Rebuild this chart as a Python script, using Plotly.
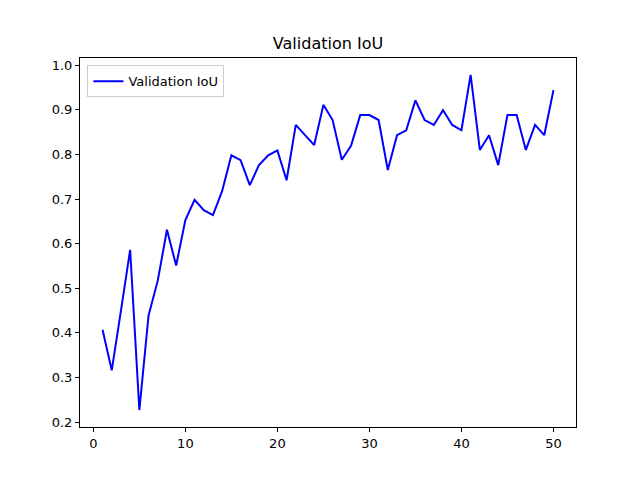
import plotly.graph_objects as go

epochs = list(range(1, 51))
val_iou = [
    0.407, 0.316, 0.450, 0.586, 0.227, 0.439, 0.517, 0.631, 0.551, 0.653,
    0.698, 0.675, 0.664, 0.718, 0.798, 0.787, 0.731, 0.776, 0.798, 0.809,
    0.742, 0.866, 0.843, 0.821, 0.911, 0.877, 0.788, 0.819, 0.888, 0.888,
    0.877, 0.765, 0.843, 0.854, 0.921, 0.877, 0.866, 0.899, 0.866, 0.854,
    0.978, 0.810, 0.843, 0.776, 0.888, 0.888, 0.810, 0.866, 0.843, 0.944,
]

fig = go.Figure()
fig.add_trace(go.Scatter(
    x=epochs, y=val_iou, mode='lines', name='Validation IoU',
    line=dict(color='blue', width=2)
))

axis_style = dict(
    showline=True, linecolor='black', linewidth=1, mirror=True,
    ticks='outside', ticklen=4, tickcolor='black',
    showgrid=False, zeroline=False,
    tickfont=dict(family='DejaVu Sans', size=13, color='black'),
)

# the page body has an 8px margin, so the margins are offset by that
fig.update_layout(
    width=640, height=480,
    margin=dict(l=72, r=72, t=50, b=61),
    plot_bgcolor='white', paper_bgcolor='white',
    title=dict(text='Validation IoU', x=0.5, xref='paper', y=0.927, yref='container',
               yanchor='middle', font=dict(family='DejaVu Sans', size=16, color='black')),
    xaxis=dict(range=[-1.45, 52.45], tickvals=[0, 10, 20, 30, 40, 50], **axis_style),
    yaxis=dict(range=[0.189, 1.016], tickvals=[0.2, 0.3, 0.4, 0.5, 0.6, 0.7, 0.8, 0.9, 1.0],
               tickformat='.1f', **axis_style),
    showlegend=True,
    legend=dict(x=0.015, y=0.98, xanchor='left', yanchor='top',
                bordercolor='#cccccc', borderwidth=1, bgcolor='white',
                font=dict(family='DejaVu Sans', size=13, color='black')),
)

fig.write_html("out.html")
